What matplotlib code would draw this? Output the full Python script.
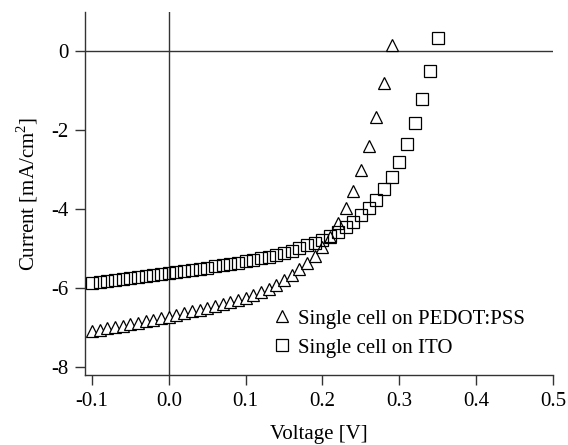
import matplotlib
matplotlib.use("Agg")
import matplotlib.pyplot as plt
import numpy as np

plt.rcParams['font.family'] = ['Liberation Serif', 'DejaVu Serif']
plt.rcParams['axes.unicode_minus'] = False
plt.rcParams['mathtext.fontset'] = 'custom'
plt.rcParams['mathtext.rm'] = 'Liberation Serif'

v_pedot = [-0.10, -0.09, -0.08, -0.07, -0.06, -0.05, -0.04, -0.03, -0.02, -0.01,
           0.00, 0.01, 0.02, 0.03, 0.04, 0.05, 0.06, 0.07, 0.08, 0.09,
           0.10, 0.11, 0.12, 0.13, 0.14, 0.15, 0.16, 0.17, 0.18, 0.19,
           0.20, 0.21, 0.22, 0.23, 0.24, 0.25, 0.26, 0.27, 0.28, 0.29]
i_pedot = [-7.08, -7.05, -7.02, -6.98, -6.95, -6.91, -6.88, -6.84, -6.80, -6.76,
           -6.72, -6.68, -6.64, -6.59, -6.55, -6.50, -6.45, -6.40, -6.35, -6.30,
           -6.24, -6.17, -6.10, -6.02, -5.92, -5.80, -5.66, -5.52, -5.37, -5.19,
           -4.97, -4.70, -4.36, -3.96, -3.53, -3.01, -2.40, -1.66, -0.80, 0.15]

v_ito = [-0.10, -0.09, -0.08, -0.07, -0.06, -0.05, -0.04, -0.03, -0.02, -0.01,
         0.00, 0.01, 0.02, 0.03, 0.04, 0.05, 0.06, 0.07, 0.08, 0.09,
         0.10, 0.11, 0.12, 0.13, 0.14, 0.15, 0.16, 0.17, 0.18, 0.19,
         0.20, 0.21, 0.22, 0.23, 0.24, 0.25, 0.26, 0.27, 0.28, 0.29,
         0.30, 0.31, 0.32, 0.33, 0.34, 0.35]
i_ito = [-5.88, -5.85, -5.83, -5.80, -5.78, -5.75, -5.73, -5.70, -5.68, -5.65,
         -5.63, -5.60, -5.57, -5.54, -5.51, -5.48, -5.45, -5.42, -5.39, -5.36,
         -5.32, -5.28, -5.24, -5.20, -5.16, -5.12, -5.06, -4.99, -4.92, -4.85,
         -4.78, -4.68, -4.57, -4.45, -4.32, -4.15, -3.96, -3.76, -3.48, -3.18,
         -2.80, -2.35, -1.83, -1.22, -0.51, 0.32]

xticks = [-0.1, 0.0, 0.1, 0.2, 0.3, 0.4, 0.5]
xticklabels = ['-0.1', '0.0', '0.1', '0.2', '0.3', '0.4', '0.5']
yticks = [0, -2, -4, -6, -8]
yticklabels = ['0', '-2', '-4', '-6', '-8']

fig = plt.figure(figsize=(5.68, 4.45), dpi=100)
ax = fig.add_axes([85/568, 70/445, (553-85)/568, (433-70)/445])

lc = '#333333'
ax.axhline(0, color=lc, lw=1.0, zorder=1)
ax.axvline(0, color=lc, lw=1.0, zorder=1)

ax.plot(v_pedot, i_pedot, linestyle='none', marker='^', markersize=8.5,
        markerfacecolor='white', markeredgecolor='black', markeredgewidth=0.9,
        label='Single cell on PEDOT:PSS', zorder=3)
ax.plot(v_ito, i_ito, linestyle='none', marker='s', markersize=8,
        markerfacecolor='none', markeredgecolor='black', markeredgewidth=0.9,
        label='Single cell on ITO', zorder=3)

ax.set_xlim(-0.109, 0.5)
ax.set_ylim(-8.2, 0.99)
ax.set_xticks(xticks)
ax.set_xticklabels(xticklabels)
ax.set_yticks(yticks)
ax.set_yticklabels(yticklabels)

for s in ['top', 'right']:
    ax.spines[s].set_visible(False)
for s in ['left', 'bottom']:
    ax.spines[s].set_color(lc)
    ax.spines[s].set_linewidth(1.0)
ax.tick_params(direction='out', length=7, width=1.0, color=lc,
               labelsize=15, pad=5)

ax.set_xlabel('Voltage [V]', fontsize=15, labelpad=10)
ax.set_ylabel('Current [mA/cm$^2$]', fontsize=15, labelpad=8)

leg = ax.legend(loc='center left', bbox_to_anchor=(0.398, 0.115),
                frameon=False, fontsize=15, handletextpad=0.3,
                labelspacing=0.45, borderaxespad=0, handlelength=1.0,
                borderpad=0)

fig.savefig('out.png', dpi=100)
